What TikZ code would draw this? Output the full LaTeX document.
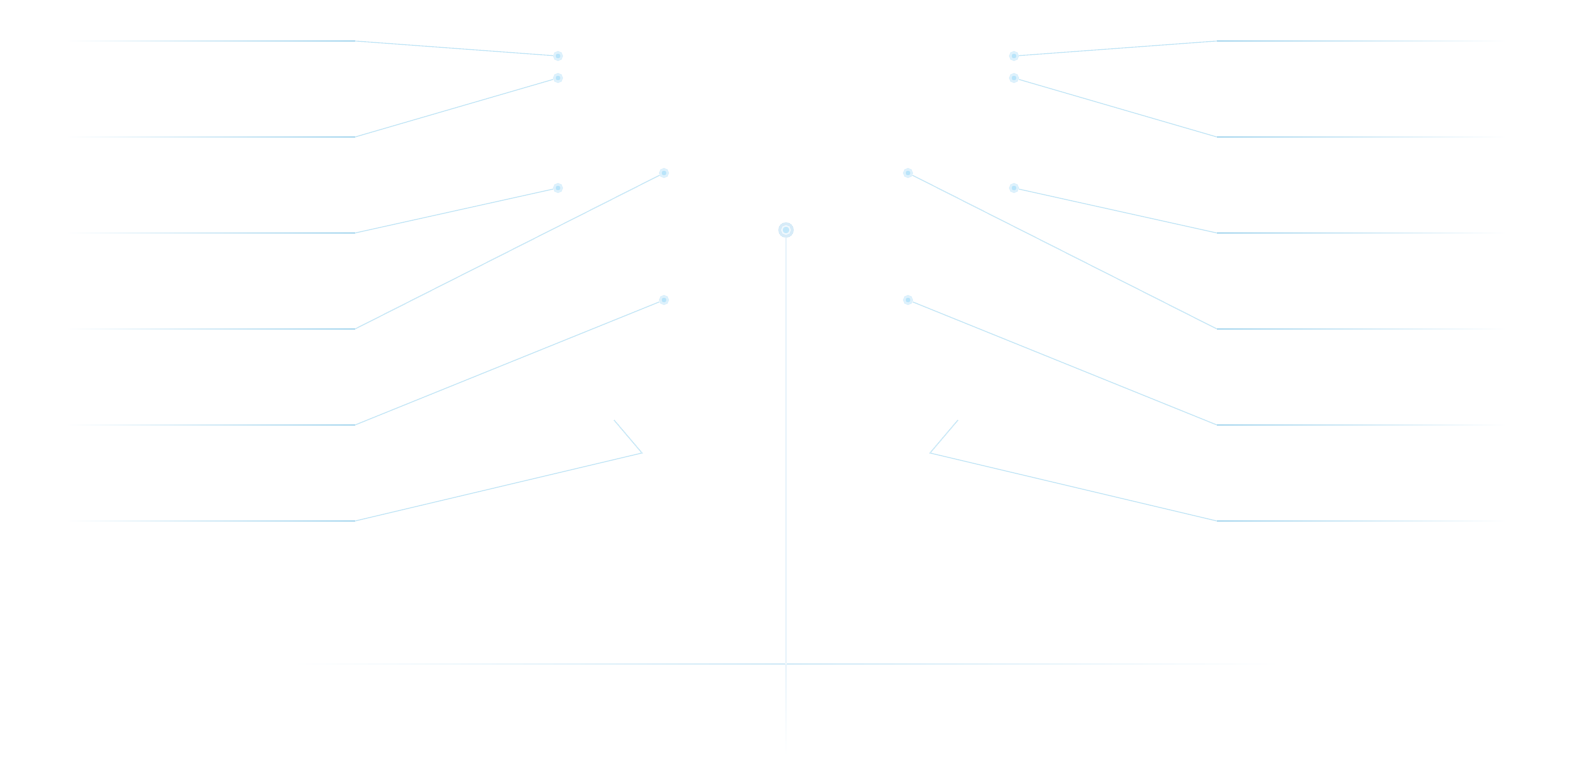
\documentclass[tikz,border=0pt]{standalone}
\usetikzlibrary{calc}
\definecolor{ln}{HTML}{C0E2F3}
\definecolor{lnd}{HTML}{CFEBF8}
\definecolor{lnv}{HTML}{EDF6FC}
\definecolor{lnh}{HTML}{DCEFF9}
\definecolor{dotin}{HTML}{B8E4FA}
\definecolor{dothalo}{HTML}{DDF1FC}
\definecolor{cring}{HTML}{D6EBF8}
\definecolor{cmid}{HTML}{EEF7FD}
\begin{document}
\begin{tikzpicture}[x=1pt,y=-1pt,
  dotnode/.style={circle, inner sep=0pt, minimum size=7.5pt, fill=dotin, draw=dothalo, line width=2.4pt},
  link/.style={draw=lnd, line width=1.1pt},
  hfadeL/.style={left color=white, right color=ln},
  hfadeR/.style={left color=ln, right color=white}]
\useasboundingbox[fill=white] (0,0) rectangle (1574,768);

% ---------- left side ----------
\foreach \i/\y in {1/41,2/137,3/233,4/329,5/425,6/521}{
  \coordinate (ls\i) at (65,\y);
  \coordinate (lk\i) at (355,\y);
  \shade[hfadeL] ($(ls\i)+(0,-0.5)$) rectangle ($(lk\i)+(0,0.5)$);
}
\node[dotnode] (ld1) at (558,56) {};
\node[dotnode] (ld2) at (558,78) {};
\node[dotnode] (ld3) at (558,188) {};
\node[dotnode] (ld4) at (664,173) {};
\node[dotnode] (ld5) at (664,300) {};
\coordinate (lb6) at (642,453);
\coordinate (le6) at (614,420);
\foreach \i in {1,...,5}{ \draw[link] (lk\i) -- (ld\i); }
\draw[link] (lk6) -- (lb6) -- (le6);

% ---------- right side ----------
\foreach \i/\y in {1/41,2/137,3/233,4/329,5/425,6/521}{
  \coordinate (rs\i) at (1507,\y);
  \coordinate (rk\i) at (1217,\y);
  \shade[hfadeR] ($(rk\i)+(0,-0.5)$) rectangle ($(rs\i)+(0,0.5)$);
}
\node[dotnode] (rd1) at (1014,56) {};
\node[dotnode] (rd2) at (1014,78) {};
\node[dotnode] (rd3) at (1014,188) {};
\node[dotnode] (rd4) at (908,173) {};
\node[dotnode] (rd5) at (908,300) {};
\coordinate (rb6) at (930,453);
\coordinate (re6) at (958,420);
\foreach \i in {1,...,5}{ \draw[link] (rk\i) -- (rd\i); }
\draw[link] (rk6) -- (rb6) -- (re6);

% ---------- centre ----------
\coordinate (hl) at (290,664);
\coordinate (hr) at (1282,664);
\coordinate (cx) at (786,664);
\coordinate (vb) at (786,756);
\shade[left color=white, right color=lnh] ($(hl)+(0,-0.6)$) rectangle ($(cx)+(0,0.6)$);
\shade[left color=lnh, right color=white] ($(cx)+(0,-0.6)$) rectangle ($(hr)+(0,0.6)$);
\node[circle, inner sep=0pt, minimum size=15.5pt, fill=cring] (cd) at (786,230) {};
\node[circle, inner sep=0pt, minimum size=10pt, fill=cmid] at (cd) {};
\node[circle, inner sep=0pt, minimum size=6.5pt, fill=dotin!85!white] at (cd) {};
\draw[draw=lnv, line width=1.1pt] (cd) -- (cx);
\shade[top color=lnv, bottom color=white] ($(cx)+(-0.55,0)$) rectangle ($(vb)+(0.55,0)$);
\end{tikzpicture}
\end{document}
